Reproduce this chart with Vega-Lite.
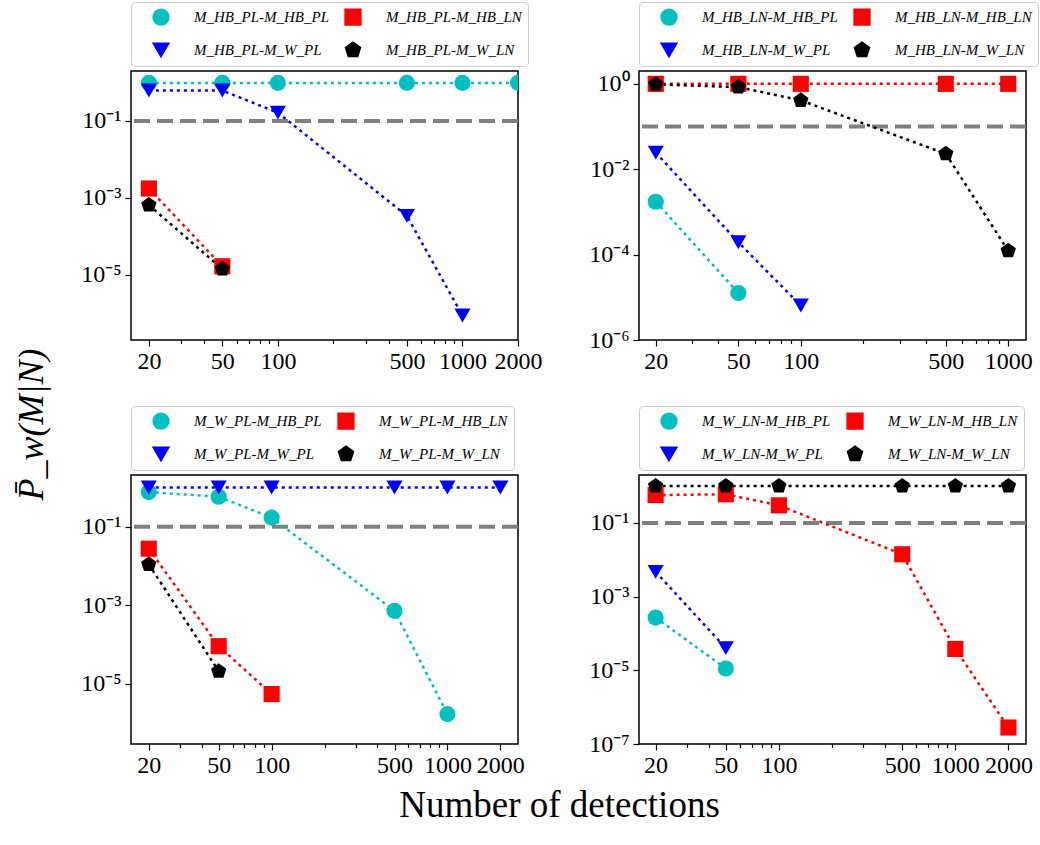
{
  "$schema": "https://vega.github.io/schema/vega-lite/v6.json",
  "padding": {"left": 12, "top": 0, "right": 3, "bottom": 5},
  "background": "white",
  "config": {
    "view": {"stroke": "black", "strokeWidth": 1.5},
    "font": "Liberation Serif",
    "axis": {
      "labelFont": "Liberation Serif", "labelFontSize": 24, "labelColor": "black",
      "tickColor": "black", "tickWidth": 1.2, "domain": false, "grid": false,
      "labelPadding": 3, "titleFont": "Liberation Serif", "titleFontWeight": "normal",
      "titleColor": "black", "labelOverlap": false, "labelFlush": false
    },
    "legend": {
      "orient": "none", "legendX": 0, "legendY": -69, "columns": 2,
      "padding": 6, "strokeColor": "#cccccc", "cornerRadius": 4, "fillColor": "white",
      "labelFont": "Liberation Serif", "labelFontStyle": "italic", "labelFontSize": 15,
      "labelColor": "black", "symbolSize": 250, "labelOffset": 24, "columnPadding": 0,
      "rowPadding": 11, "symbolOffset": 15, "labelLimit": 300
    }
  },
  "datasets": {
    "d": [
      {"panel": 1, "series": "M_HB_PL-M_HB_PL", "n": 20, "p": 0.98},
      {"panel": 1, "series": "M_HB_PL-M_HB_PL", "n": 50, "p": 0.98},
      {"panel": 1, "series": "M_HB_PL-M_HB_PL", "n": 100, "p": 0.98},
      {"panel": 1, "series": "M_HB_PL-M_HB_PL", "n": 500, "p": 0.98},
      {"panel": 1, "series": "M_HB_PL-M_HB_PL", "n": 1000, "p": 0.98},
      {"panel": 1, "series": "M_HB_PL-M_HB_PL", "n": 2000, "p": 0.98},
      {"panel": 1, "series": "M_HB_PL-M_HB_LN", "n": 20, "p": 0.00175},
      {"panel": 1, "series": "M_HB_PL-M_HB_LN", "n": 50, "p": 0.0000166},
      {"panel": 1, "series": "M_HB_PL-M_W_PL", "n": 20, "p": 0.62},
      {"panel": 1, "series": "M_HB_PL-M_W_PL", "n": 50, "p": 0.62},
      {"panel": 1, "series": "M_HB_PL-M_W_PL", "n": 100, "p": 0.165},
      {"panel": 1, "series": "M_HB_PL-M_W_PL", "n": 500, "p": 0.00034},
      {"panel": 1, "series": "M_HB_PL-M_W_PL", "n": 1000, "p": 0.00000087},
      {"panel": 1, "series": "M_HB_PL-M_W_LN", "n": 20, "p": 0.00065},
      {"panel": 1, "series": "M_HB_PL-M_W_LN", "n": 50, "p": 0.000014},

      {"panel": 2, "series": "M_HB_LN-M_HB_PL", "n": 20, "p": 0.00173},
      {"panel": 2, "series": "M_HB_LN-M_HB_PL", "n": 50, "p": 0.0000126},
      {"panel": 2, "series": "M_HB_LN-M_HB_LN", "n": 20, "p": 1.0},
      {"panel": 2, "series": "M_HB_LN-M_HB_LN", "n": 50, "p": 1.0},
      {"panel": 2, "series": "M_HB_LN-M_HB_LN", "n": 100, "p": 1.0},
      {"panel": 2, "series": "M_HB_LN-M_HB_LN", "n": 500, "p": 1.0},
      {"panel": 2, "series": "M_HB_LN-M_HB_LN", "n": 1000, "p": 1.0},
      {"panel": 2, "series": "M_HB_LN-M_W_PL", "n": 20, "p": 0.0245},
      {"panel": 2, "series": "M_HB_LN-M_W_PL", "n": 50, "p": 0.000194},
      {"panel": 2, "series": "M_HB_LN-M_W_PL", "n": 100, "p": 0.0000064},
      {"panel": 2, "series": "M_HB_LN-M_W_LN", "n": 20, "p": 0.97},
      {"panel": 2, "series": "M_HB_LN-M_W_LN", "n": 50, "p": 0.84},
      {"panel": 2, "series": "M_HB_LN-M_W_LN", "n": 100, "p": 0.41},
      {"panel": 2, "series": "M_HB_LN-M_W_LN", "n": 500, "p": 0.023},
      {"panel": 2, "series": "M_HB_LN-M_W_LN", "n": 1000, "p": 0.000123},

      {"panel": 3, "series": "M_W_PL-M_HB_PL", "n": 20, "p": 0.76},
      {"panel": 3, "series": "M_W_PL-M_HB_PL", "n": 50, "p": 0.58},
      {"panel": 3, "series": "M_W_PL-M_HB_PL", "n": 100, "p": 0.17},
      {"panel": 3, "series": "M_W_PL-M_HB_PL", "n": 500, "p": 0.00072},
      {"panel": 3, "series": "M_W_PL-M_HB_PL", "n": 1000, "p": 0.0000017},
      {"panel": 3, "series": "M_W_PL-M_HB_LN", "n": 20, "p": 0.0276},
      {"panel": 3, "series": "M_W_PL-M_HB_LN", "n": 50, "p": 0.000091},
      {"panel": 3, "series": "M_W_PL-M_HB_LN", "n": 100, "p": 0.0000055},
      {"panel": 3, "series": "M_W_PL-M_W_PL", "n": 20, "p": 1.0},
      {"panel": 3, "series": "M_W_PL-M_W_PL", "n": 50, "p": 1.0},
      {"panel": 3, "series": "M_W_PL-M_W_PL", "n": 100, "p": 1.0},
      {"panel": 3, "series": "M_W_PL-M_W_PL", "n": 500, "p": 1.0},
      {"panel": 3, "series": "M_W_PL-M_W_PL", "n": 1000, "p": 1.0},
      {"panel": 3, "series": "M_W_PL-M_W_PL", "n": 2000, "p": 1.0},
      {"panel": 3, "series": "M_W_PL-M_W_LN", "n": 20, "p": 0.011},
      {"panel": 3, "series": "M_W_PL-M_W_LN", "n": 50, "p": 0.000021},

      {"panel": 4, "series": "M_W_LN-M_HB_PL", "n": 20, "p": 0.00027},
      {"panel": 4, "series": "M_W_LN-M_HB_PL", "n": 50, "p": 0.0000112},
      {"panel": 4, "series": "M_W_LN-M_HB_LN", "n": 20, "p": 0.57},
      {"panel": 4, "series": "M_W_LN-M_HB_LN", "n": 50, "p": 0.60},
      {"panel": 4, "series": "M_W_LN-M_HB_LN", "n": 100, "p": 0.30},
      {"panel": 4, "series": "M_W_LN-M_HB_LN", "n": 500, "p": 0.0141},
      {"panel": 4, "series": "M_W_LN-M_HB_LN", "n": 1000, "p": 0.000038},
      {"panel": 4, "series": "M_W_LN-M_HB_LN", "n": 2000, "p": 0.00000028},
      {"panel": 4, "series": "M_W_LN-M_W_PL", "n": 20, "p": 0.0047},
      {"panel": 4, "series": "M_W_LN-M_W_PL", "n": 50, "p": 0.00004},
      {"panel": 4, "series": "M_W_LN-M_W_LN", "n": 20, "p": 1.0},
      {"panel": 4, "series": "M_W_LN-M_W_LN", "n": 50, "p": 1.0},
      {"panel": 4, "series": "M_W_LN-M_W_LN", "n": 100, "p": 1.0},
      {"panel": 4, "series": "M_W_LN-M_W_LN", "n": 500, "p": 1.0},
      {"panel": 4, "series": "M_W_LN-M_W_LN", "n": 1000, "p": 1.0},
      {"panel": 4, "series": "M_W_LN-M_W_LN", "n": 2000, "p": 1.0}
    ],
    "thr": [{"threshold": 0.1}]
  },
  "columns": 2,
  "spacing": {"row": 135, "column": 121},
  "bounds": "flush",
  "resolve": {
    "scale": {"x": "independent", "y": "independent", "color": "independent", "shape": "independent"},
    "legend": {"color": "independent", "shape": "independent"}
  },
  "concat": [
    {
      "width": 387, "height": 269,
      "data": {"name": "d"},
      "transform": [{"filter": "datum.panel == 1"}],
      "layer": [
        {
          "data": {"name": "thr"},
          "mark": {"type": "rule", "color": "#808080", "strokeWidth": 4, "strokeDash": [16, 7]},
          "encoding": {"y": {"field": "threshold", "type": "quantitative"}}
        },
        {
          "mark": {"type": "line", "strokeDash": [3, 4], "strokeWidth": 2.5, "clip": true},
          "encoding": {
            "x": {"field": "n", "type": "quantitative", "scale": {"type": "log", "domain": [16.0, 2000], "nice": false},
              "axis": {"title": null, "format": "d", "values": [20,30,40,50,60,70,80,90,100,200,300,400,500,600,700,800,900,1000,2000],
                "labelExpr": "indexof([20,50,100,500,1000,2000], datum.value) >= 0 ? datum.label : ''",
                "tickSize": {"condition": {"test": "indexof([20,50,100,500,1000,2000], datum.value) >= 0", "value": 6}, "value": 3.5}}},
            "y": {"field": "p", "type": "quantitative", "scale": {"type": "log", "domain": [2.0e-7, 2.0], "nice": false},
              "axis": {"title": null, "values": [0.1, 0.001, 0.00001], "tickSize": 6, "labelPadding": 4,
                "labelExpr": "'10' + replace(replace(replace(replace(replace(replace(replace(replace(replace(''+round(log(datum.value)/LN10),'-','⁻'),'0','⁰'),'1','¹'),'2','²'),'3','³'),'4','⁴'),'5','⁵'),'6','⁶'),'7','⁷')"}},
            "color": {"field": "series", "type": "nominal",
              "scale": {"domain": ["M_HB_PL-M_HB_PL", "M_HB_PL-M_W_PL", "M_HB_PL-M_HB_LN", "M_HB_PL-M_W_LN"], "range": ["#00bfbf", "#0000ff", "#ff0000", "#000000"]}}
          }
        },
        {
          "mark": {"type": "point", "filled": true, "opacity": 1, "size": 260, "clip": true},
          "encoding": {
            "x": {"field": "n", "type": "quantitative"},
            "y": {"field": "p", "type": "quantitative"},
            "color": {"field": "series", "type": "nominal", "legend": {"title": null,
              "encode": {"symbols": {"shape": {"value": {"expr": "indexof(datum.value, '-M_HB_PL') > 0 ? 'M-1,0A1,1 0 1,1 1,0A1,1 0 1,1 -1,0Z M-1.57,-0.17h0.34v0.34h-0.34Z M1.23,-0.17h0.34v0.34h-0.34Z M-2.92,-0.17h0.34v0.34h-0.34Z M2.58,-0.17h0.34v0.34h-0.34Z' : indexof(datum.value, '-M_HB_LN') > 0 ? 'M-1,-1H1V1H-1Z M-1.57,-0.17h0.34v0.34h-0.34Z M1.23,-0.17h0.34v0.34h-0.34Z M-2.92,-0.17h0.34v0.34h-0.34Z M2.58,-0.17h0.34v0.34h-0.34Z' : indexof(datum.value, '-M_W_PL') > 0 ? 'M-1,-0.9L1,-0.9L0,1Z M-1.57,-0.17h0.34v0.34h-0.34Z M1.23,-0.17h0.34v0.34h-0.34Z M-2.92,-0.17h0.34v0.34h-0.34Z M2.58,-0.17h0.34v0.34h-0.34Z' : 'M0,-1L0.951,-0.309L0.588,0.809L-0.588,0.809L-0.951,-0.309Z M-1.57,-0.17h0.34v0.34h-0.34Z M1.23,-0.17h0.34v0.34h-0.34Z M-2.92,-0.17h0.34v0.34h-0.34Z M2.58,-0.17h0.34v0.34h-0.34Z'"}}}}}},
            "shape": {"field": "series", "type": "nominal", "legend": {"title": null,
              "encode": {"symbols": {"shape": {"value": {"expr": "indexof(datum.value, '-M_HB_PL') > 0 ? 'M-1,0A1,1 0 1,1 1,0A1,1 0 1,1 -1,0Z M-1.57,-0.17h0.34v0.34h-0.34Z M1.23,-0.17h0.34v0.34h-0.34Z M-2.92,-0.17h0.34v0.34h-0.34Z M2.58,-0.17h0.34v0.34h-0.34Z' : indexof(datum.value, '-M_HB_LN') > 0 ? 'M-1,-1H1V1H-1Z M-1.57,-0.17h0.34v0.34h-0.34Z M1.23,-0.17h0.34v0.34h-0.34Z M-2.92,-0.17h0.34v0.34h-0.34Z M2.58,-0.17h0.34v0.34h-0.34Z' : indexof(datum.value, '-M_W_PL') > 0 ? 'M-1,-0.9L1,-0.9L0,1Z M-1.57,-0.17h0.34v0.34h-0.34Z M1.23,-0.17h0.34v0.34h-0.34Z M-2.92,-0.17h0.34v0.34h-0.34Z M2.58,-0.17h0.34v0.34h-0.34Z' : 'M0,-1L0.951,-0.309L0.588,0.809L-0.588,0.809L-0.951,-0.309Z M-1.57,-0.17h0.34v0.34h-0.34Z M1.23,-0.17h0.34v0.34h-0.34Z M-2.92,-0.17h0.34v0.34h-0.34Z M2.58,-0.17h0.34v0.34h-0.34Z'"}}}}},
              "scale": {"domain": ["M_HB_PL-M_HB_PL", "M_HB_PL-M_W_PL", "M_HB_PL-M_HB_LN", "M_HB_PL-M_W_LN"], "range": ["circle", "triangle-down", "square", "M0,-1L0.951,-0.309L0.588,0.809L-0.588,0.809L-0.951,-0.309Z"]}}
          }
        }
      ]
    },
    {
      "width": 387, "height": 269,
      "data": {"name": "d"},
      "transform": [{"filter": "datum.panel == 2"}],
      "layer": [
        {
          "data": {"name": "thr"},
          "mark": {"type": "rule", "color": "#808080", "strokeWidth": 4, "strokeDash": [16, 7]},
          "encoding": {"y": {"field": "threshold", "type": "quantitative"}}
        },
        {
          "mark": {"type": "line", "strokeDash": [3, 4], "strokeWidth": 2.5, "clip": true},
          "encoding": {
            "x": {"field": "n", "type": "quantitative", "scale": {"type": "log", "domain": [16.6, 1218], "nice": false},
              "axis": {"title": null, "format": "d", "values": [20,30,40,50,60,70,80,90,100,200,300,400,500,600,700,800,900,1000],
                "labelExpr": "indexof([20,50,100,500,1000,2000], datum.value) >= 0 ? datum.label : ''",
                "tickSize": {"condition": {"test": "indexof([20,50,100,500,1000,2000], datum.value) >= 0", "value": 6}, "value": 3.5}}},
            "y": {"field": "p", "type": "quantitative", "scale": {"type": "log", "domain": [1.0e-6, 2.0], "nice": false},
              "axis": {"title": null, "values": [1, 0.01, 0.0001, 0.000001], "tickSize": 6, "labelPadding": 4,
                "labelExpr": "'10' + replace(replace(replace(replace(replace(replace(replace(replace(replace(''+round(log(datum.value)/LN10),'-','⁻'),'0','⁰'),'1','¹'),'2','²'),'3','³'),'4','⁴'),'5','⁵'),'6','⁶'),'7','⁷')"}},
            "color": {"field": "series", "type": "nominal",
              "scale": {"domain": ["M_HB_LN-M_HB_PL", "M_HB_LN-M_W_PL", "M_HB_LN-M_HB_LN", "M_HB_LN-M_W_LN"], "range": ["#00bfbf", "#0000ff", "#ff0000", "#000000"]}}
          }
        },
        {
          "mark": {"type": "point", "filled": true, "opacity": 1, "size": 260, "clip": true},
          "encoding": {
            "x": {"field": "n", "type": "quantitative"},
            "y": {"field": "p", "type": "quantitative"},
            "color": {"field": "series", "type": "nominal", "legend": {"title": null,
              "encode": {"symbols": {"shape": {"value": {"expr": "indexof(datum.value, '-M_HB_PL') > 0 ? 'M-1,0A1,1 0 1,1 1,0A1,1 0 1,1 -1,0Z M-1.57,-0.17h0.34v0.34h-0.34Z M1.23,-0.17h0.34v0.34h-0.34Z M-2.92,-0.17h0.34v0.34h-0.34Z M2.58,-0.17h0.34v0.34h-0.34Z' : indexof(datum.value, '-M_HB_LN') > 0 ? 'M-1,-1H1V1H-1Z M-1.57,-0.17h0.34v0.34h-0.34Z M1.23,-0.17h0.34v0.34h-0.34Z M-2.92,-0.17h0.34v0.34h-0.34Z M2.58,-0.17h0.34v0.34h-0.34Z' : indexof(datum.value, '-M_W_PL') > 0 ? 'M-1,-0.9L1,-0.9L0,1Z M-1.57,-0.17h0.34v0.34h-0.34Z M1.23,-0.17h0.34v0.34h-0.34Z M-2.92,-0.17h0.34v0.34h-0.34Z M2.58,-0.17h0.34v0.34h-0.34Z' : 'M0,-1L0.951,-0.309L0.588,0.809L-0.588,0.809L-0.951,-0.309Z M-1.57,-0.17h0.34v0.34h-0.34Z M1.23,-0.17h0.34v0.34h-0.34Z M-2.92,-0.17h0.34v0.34h-0.34Z M2.58,-0.17h0.34v0.34h-0.34Z'"}}}}}},
            "shape": {"field": "series", "type": "nominal", "legend": {"title": null,
              "encode": {"symbols": {"shape": {"value": {"expr": "indexof(datum.value, '-M_HB_PL') > 0 ? 'M-1,0A1,1 0 1,1 1,0A1,1 0 1,1 -1,0Z M-1.57,-0.17h0.34v0.34h-0.34Z M1.23,-0.17h0.34v0.34h-0.34Z M-2.92,-0.17h0.34v0.34h-0.34Z M2.58,-0.17h0.34v0.34h-0.34Z' : indexof(datum.value, '-M_HB_LN') > 0 ? 'M-1,-1H1V1H-1Z M-1.57,-0.17h0.34v0.34h-0.34Z M1.23,-0.17h0.34v0.34h-0.34Z M-2.92,-0.17h0.34v0.34h-0.34Z M2.58,-0.17h0.34v0.34h-0.34Z' : indexof(datum.value, '-M_W_PL') > 0 ? 'M-1,-0.9L1,-0.9L0,1Z M-1.57,-0.17h0.34v0.34h-0.34Z M1.23,-0.17h0.34v0.34h-0.34Z M-2.92,-0.17h0.34v0.34h-0.34Z M2.58,-0.17h0.34v0.34h-0.34Z' : 'M0,-1L0.951,-0.309L0.588,0.809L-0.588,0.809L-0.951,-0.309Z M-1.57,-0.17h0.34v0.34h-0.34Z M1.23,-0.17h0.34v0.34h-0.34Z M-2.92,-0.17h0.34v0.34h-0.34Z M2.58,-0.17h0.34v0.34h-0.34Z'"}}}}},
              "scale": {"domain": ["M_HB_LN-M_HB_PL", "M_HB_LN-M_W_PL", "M_HB_LN-M_HB_LN", "M_HB_LN-M_W_LN"], "range": ["circle", "triangle-down", "square", "M0,-1L0.951,-0.309L0.588,0.809L-0.588,0.809L-0.951,-0.309Z"]}}
          }
        }
      ]
    },
    {
      "width": 387, "height": 269,
      "data": {"name": "d"},
      "transform": [{"filter": "datum.panel == 3"}],
      "layer": [
        {
          "data": {"name": "thr"},
          "mark": {"type": "rule", "color": "#808080", "strokeWidth": 4, "strokeDash": [16, 7]},
          "encoding": {"y": {"field": "threshold", "type": "quantitative"}}
        },
        {
          "mark": {"type": "line", "strokeDash": [3, 4], "strokeWidth": 2.5, "clip": true},
          "encoding": {
            "x": {"field": "n", "type": "quantitative", "scale": {"type": "log", "domain": [15.85, 2520], "nice": false},
              "axis": {"title": "Number of detections", "titleFontSize": 37, "titleX": 428, "titleY": 61, "titleBaseline": "middle", "titleAlign": "center",
                "format": "d", "values": [20,30,40,50,60,70,80,90,100,200,300,400,500,600,700,800,900,1000,2000],
                "labelExpr": "indexof([20,50,100,500,1000,2000], datum.value) >= 0 ? datum.label : ''",
                "tickSize": {"condition": {"test": "indexof([20,50,100,500,1000,2000], datum.value) >= 0", "value": 6}, "value": 3.5}}},
            "y": {"field": "p", "type": "quantitative", "scale": {"type": "log", "domain": [2.95e-7, 2.07], "nice": false},
              "axis": {"title": "P̄_w(M|N)", "titleFontSize": 36, "titleFontStyle": "italic", "titleX": -100, "titleY": -51, "titleBaseline": "middle", "titleAlign": "center", "titleAngle": -90,
                "values": [0.1, 0.001, 0.00001], "tickSize": 6, "labelPadding": 4,
                "labelExpr": "'10' + replace(replace(replace(replace(replace(replace(replace(replace(replace(''+round(log(datum.value)/LN10),'-','⁻'),'0','⁰'),'1','¹'),'2','²'),'3','³'),'4','⁴'),'5','⁵'),'6','⁶'),'7','⁷')"}},
            "color": {"field": "series", "type": "nominal",
              "scale": {"domain": ["M_W_PL-M_HB_PL", "M_W_PL-M_W_PL", "M_W_PL-M_HB_LN", "M_W_PL-M_W_LN"], "range": ["#00bfbf", "#0000ff", "#ff0000", "#000000"]}}
          }
        },
        {
          "mark": {"type": "point", "filled": true, "opacity": 1, "size": 260, "clip": true},
          "encoding": {
            "x": {"field": "n", "type": "quantitative"},
            "y": {"field": "p", "type": "quantitative"},
            "color": {"field": "series", "type": "nominal", "legend": {"title": null,
              "encode": {"symbols": {"shape": {"value": {"expr": "indexof(datum.value, '-M_HB_PL') > 0 ? 'M-1,0A1,1 0 1,1 1,0A1,1 0 1,1 -1,0Z M-1.57,-0.17h0.34v0.34h-0.34Z M1.23,-0.17h0.34v0.34h-0.34Z M-2.92,-0.17h0.34v0.34h-0.34Z M2.58,-0.17h0.34v0.34h-0.34Z' : indexof(datum.value, '-M_HB_LN') > 0 ? 'M-1,-1H1V1H-1Z M-1.57,-0.17h0.34v0.34h-0.34Z M1.23,-0.17h0.34v0.34h-0.34Z M-2.92,-0.17h0.34v0.34h-0.34Z M2.58,-0.17h0.34v0.34h-0.34Z' : indexof(datum.value, '-M_W_PL') > 0 ? 'M-1,-0.9L1,-0.9L0,1Z M-1.57,-0.17h0.34v0.34h-0.34Z M1.23,-0.17h0.34v0.34h-0.34Z M-2.92,-0.17h0.34v0.34h-0.34Z M2.58,-0.17h0.34v0.34h-0.34Z' : 'M0,-1L0.951,-0.309L0.588,0.809L-0.588,0.809L-0.951,-0.309Z M-1.57,-0.17h0.34v0.34h-0.34Z M1.23,-0.17h0.34v0.34h-0.34Z M-2.92,-0.17h0.34v0.34h-0.34Z M2.58,-0.17h0.34v0.34h-0.34Z'"}}}}}},
            "shape": {"field": "series", "type": "nominal", "legend": {"title": null,
              "encode": {"symbols": {"shape": {"value": {"expr": "indexof(datum.value, '-M_HB_PL') > 0 ? 'M-1,0A1,1 0 1,1 1,0A1,1 0 1,1 -1,0Z M-1.57,-0.17h0.34v0.34h-0.34Z M1.23,-0.17h0.34v0.34h-0.34Z M-2.92,-0.17h0.34v0.34h-0.34Z M2.58,-0.17h0.34v0.34h-0.34Z' : indexof(datum.value, '-M_HB_LN') > 0 ? 'M-1,-1H1V1H-1Z M-1.57,-0.17h0.34v0.34h-0.34Z M1.23,-0.17h0.34v0.34h-0.34Z M-2.92,-0.17h0.34v0.34h-0.34Z M2.58,-0.17h0.34v0.34h-0.34Z' : indexof(datum.value, '-M_W_PL') > 0 ? 'M-1,-0.9L1,-0.9L0,1Z M-1.57,-0.17h0.34v0.34h-0.34Z M1.23,-0.17h0.34v0.34h-0.34Z M-2.92,-0.17h0.34v0.34h-0.34Z M2.58,-0.17h0.34v0.34h-0.34Z' : 'M0,-1L0.951,-0.309L0.588,0.809L-0.588,0.809L-0.951,-0.309Z M-1.57,-0.17h0.34v0.34h-0.34Z M1.23,-0.17h0.34v0.34h-0.34Z M-2.92,-0.17h0.34v0.34h-0.34Z M2.58,-0.17h0.34v0.34h-0.34Z'"}}}}},
              "scale": {"domain": ["M_W_PL-M_HB_PL", "M_W_PL-M_W_PL", "M_W_PL-M_HB_LN", "M_W_PL-M_W_LN"], "range": ["circle", "triangle-down", "square", "M0,-1L0.951,-0.309L0.588,0.809L-0.588,0.809L-0.951,-0.309Z"]}}
          }
        }
      ]
    },
    {
      "width": 387, "height": 269,
      "data": {"name": "d"},
      "transform": [{"filter": "datum.panel == 4"}],
      "layer": [
        {
          "data": {"name": "thr"},
          "mark": {"type": "rule", "color": "#808080", "strokeWidth": 4, "strokeDash": [16, 7]},
          "encoding": {"y": {"field": "threshold", "type": "quantitative"}}
        },
        {
          "mark": {"type": "line", "strokeDash": [3, 4], "strokeWidth": 2.5, "clip": true},
          "encoding": {
            "x": {"field": "n", "type": "quantitative", "scale": {"type": "log", "domain": [16.1, 2515], "nice": false},
              "axis": {"title": null, "format": "d", "values": [20,30,40,50,60,70,80,90,100,200,300,400,500,600,700,800,900,1000,2000],
                "labelExpr": "indexof([20,50,100,500,1000,2000], datum.value) >= 0 ? datum.label : ''",
                "tickSize": {"condition": {"test": "indexof([20,50,100,500,1000,2000], datum.value) >= 0", "value": 6}, "value": 3.5}}},
            "y": {"field": "p", "type": "quantitative", "scale": {"type": "log", "domain": [1.0e-7, 2.0], "nice": false},
              "axis": {"title": null, "values": [0.1, 0.001, 0.00001, 0.0000001], "tickSize": 6, "labelPadding": 4,
                "labelExpr": "'10' + replace(replace(replace(replace(replace(replace(replace(replace(replace(''+round(log(datum.value)/LN10),'-','⁻'),'0','⁰'),'1','¹'),'2','²'),'3','³'),'4','⁴'),'5','⁵'),'6','⁶'),'7','⁷')"}},
            "color": {"field": "series", "type": "nominal",
              "scale": {"domain": ["M_W_LN-M_HB_PL", "M_W_LN-M_W_PL", "M_W_LN-M_HB_LN", "M_W_LN-M_W_LN"], "range": ["#00bfbf", "#0000ff", "#ff0000", "#000000"]}}
          }
        },
        {
          "mark": {"type": "point", "filled": true, "opacity": 1, "size": 260, "clip": true},
          "encoding": {
            "x": {"field": "n", "type": "quantitative"},
            "y": {"field": "p", "type": "quantitative"},
            "color": {"field": "series", "type": "nominal", "legend": {"title": null,
              "encode": {"symbols": {"shape": {"value": {"expr": "indexof(datum.value, '-M_HB_PL') > 0 ? 'M-1,0A1,1 0 1,1 1,0A1,1 0 1,1 -1,0Z M-1.57,-0.17h0.34v0.34h-0.34Z M1.23,-0.17h0.34v0.34h-0.34Z M-2.92,-0.17h0.34v0.34h-0.34Z M2.58,-0.17h0.34v0.34h-0.34Z' : indexof(datum.value, '-M_HB_LN') > 0 ? 'M-1,-1H1V1H-1Z M-1.57,-0.17h0.34v0.34h-0.34Z M1.23,-0.17h0.34v0.34h-0.34Z M-2.92,-0.17h0.34v0.34h-0.34Z M2.58,-0.17h0.34v0.34h-0.34Z' : indexof(datum.value, '-M_W_PL') > 0 ? 'M-1,-0.9L1,-0.9L0,1Z M-1.57,-0.17h0.34v0.34h-0.34Z M1.23,-0.17h0.34v0.34h-0.34Z M-2.92,-0.17h0.34v0.34h-0.34Z M2.58,-0.17h0.34v0.34h-0.34Z' : 'M0,-1L0.951,-0.309L0.588,0.809L-0.588,0.809L-0.951,-0.309Z M-1.57,-0.17h0.34v0.34h-0.34Z M1.23,-0.17h0.34v0.34h-0.34Z M-2.92,-0.17h0.34v0.34h-0.34Z M2.58,-0.17h0.34v0.34h-0.34Z'"}}}}}},
            "shape": {"field": "series", "type": "nominal", "legend": {"title": null,
              "encode": {"symbols": {"shape": {"value": {"expr": "indexof(datum.value, '-M_HB_PL') > 0 ? 'M-1,0A1,1 0 1,1 1,0A1,1 0 1,1 -1,0Z M-1.57,-0.17h0.34v0.34h-0.34Z M1.23,-0.17h0.34v0.34h-0.34Z M-2.92,-0.17h0.34v0.34h-0.34Z M2.58,-0.17h0.34v0.34h-0.34Z' : indexof(datum.value, '-M_HB_LN') > 0 ? 'M-1,-1H1V1H-1Z M-1.57,-0.17h0.34v0.34h-0.34Z M1.23,-0.17h0.34v0.34h-0.34Z M-2.92,-0.17h0.34v0.34h-0.34Z M2.58,-0.17h0.34v0.34h-0.34Z' : indexof(datum.value, '-M_W_PL') > 0 ? 'M-1,-0.9L1,-0.9L0,1Z M-1.57,-0.17h0.34v0.34h-0.34Z M1.23,-0.17h0.34v0.34h-0.34Z M-2.92,-0.17h0.34v0.34h-0.34Z M2.58,-0.17h0.34v0.34h-0.34Z' : 'M0,-1L0.951,-0.309L0.588,0.809L-0.588,0.809L-0.951,-0.309Z M-1.57,-0.17h0.34v0.34h-0.34Z M1.23,-0.17h0.34v0.34h-0.34Z M-2.92,-0.17h0.34v0.34h-0.34Z M2.58,-0.17h0.34v0.34h-0.34Z'"}}}}},
              "scale": {"domain": ["M_W_LN-M_HB_PL", "M_W_LN-M_W_PL", "M_W_LN-M_HB_LN", "M_W_LN-M_W_LN"], "range": ["circle", "triangle-down", "square", "M0,-1L0.951,-0.309L0.588,0.809L-0.588,0.809L-0.951,-0.309Z"]}}
          }
        }
      ]
    }
  ]
}
